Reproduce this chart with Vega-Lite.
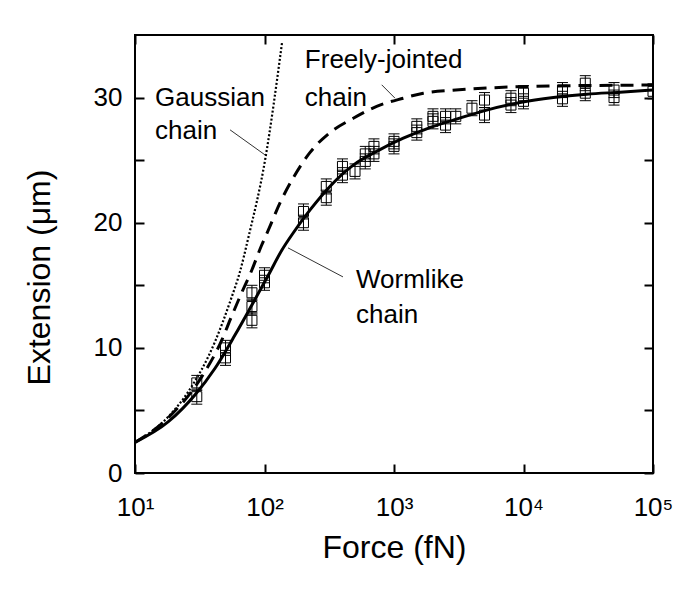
{
  "$schema": "https://vega.github.io/schema/vega-lite/v6.json",
  "width": 518,
  "height": 438,
  "autosize": {"type": "none"},
  "padding": {"left": 135, "top": 35, "right": 44, "bottom": 116},
  "background": "white",
  "config": {
    "view": {"stroke": "black", "strokeWidth": 2},
    "font": "Liberation Sans",
    "axis": {
      "grid": false, "domain": false, "tickColor": "black", "tickWidth": 2, "tickSize": 9, "offset": -9,
      "labelColor": "black", "labelFont": "Liberation Sans", "labelFontSize": 26,
      "titleFont": "Liberation Sans", "titleFontSize": 32, "titleFontWeight": "normal", "titleColor": "black"
    }
  },
  "datasets": {
    "wlc": [
      {"F": 10, "E": 2.45}, {"F": 18.1, "E": 4.1}, {"F": 29, "E": 6.23}, {"F": 41.5, "E": 8.37},
      {"F": 59, "E": 11.0}, {"F": 79.7, "E": 13.4}, {"F": 107, "E": 15.8}, {"F": 136, "E": 17.8},
      {"F": 167, "E": 19.2}, {"F": 224, "E": 21.0}, {"F": 320, "E": 22.9}, {"F": 485, "E": 24.6},
      {"F": 735, "E": 25.7}, {"F": 1180, "E": 26.75}, {"F": 1897, "E": 27.6}, {"F": 2870, "E": 28.2},
      {"F": 5200, "E": 29.0}, {"F": 9400, "E": 29.6}, {"F": 17000, "E": 30.0}, {"F": 30800, "E": 30.27},
      {"F": 55600, "E": 30.43}, {"F": 100000, "E": 30.6}
    ],
    "fjc": [
      {"F": 10, "E": 2.45}, {"F": 18, "E": 4.4}, {"F": 32.8, "E": 7.7}, {"F": 46.7, "E": 10.6},
      {"F": 55.1, "E": 12.4}, {"F": 66.6, "E": 14.4}, {"F": 79.7, "E": 16.2}, {"F": 95, "E": 18.2},
      {"F": 107, "E": 19.4}, {"F": 132, "E": 21.6}, {"F": 167, "E": 23.6}, {"F": 224, "E": 25.6},
      {"F": 320, "E": 27.2}, {"F": 485, "E": 28.35}, {"F": 735, "E": 29.3}, {"F": 1180, "E": 29.95},
      {"F": 1683, "E": 30.35}, {"F": 3000, "E": 30.6}, {"F": 12600, "E": 30.9}, {"F": 100000, "E": 31.0}
    ],
    "gauss": [
      {"F": 10, "E": 2.45}, {"F": 18.1, "E": 4.5}, {"F": 25.8, "E": 6.5}, {"F": 41.5, "E": 10.5},
      {"F": 55.1, "E": 13.9}, {"F": 64.7, "E": 16.1}, {"F": 75, "E": 18.8}, {"F": 101, "E": 25.0},
      {"F": 137, "E": 34.5}
    ],
    "pts": [
      {"F": 30, "E": 7.2, "lo": 6.6, "hi": 7.8}, {"F": 30, "E": 6.1, "lo": 5.5, "hi": 6.7},
      {"F": 50, "E": 10.0, "lo": 9.4, "hi": 10.6}, {"F": 50, "E": 9.2, "lo": 8.6, "hi": 9.8},
      {"F": 80, "E": 14.4, "lo": 13.8, "hi": 15.0}, {"F": 80, "E": 13.3, "lo": 12.7, "hi": 13.9},
      {"F": 80, "E": 12.2, "lo": 11.6, "hi": 12.8},
      {"F": 100, "E": 15.8, "lo": 15.2, "hi": 16.4}, {"F": 100, "E": 15.2, "lo": 14.6, "hi": 15.8},
      {"F": 200, "E": 20.9, "lo": 20.3, "hi": 21.5}, {"F": 200, "E": 20.0, "lo": 19.4, "hi": 20.6},
      {"F": 300, "E": 22.9, "lo": 22.3, "hi": 23.5}, {"F": 300, "E": 22.0, "lo": 21.4, "hi": 22.6},
      {"F": 400, "E": 24.5, "lo": 23.9, "hi": 25.1}, {"F": 400, "E": 23.8, "lo": 23.2, "hi": 24.4},
      {"F": 500, "E": 24.1, "lo": 23.5, "hi": 24.7},
      {"F": 600, "E": 25.5, "lo": 24.9, "hi": 26.1}, {"F": 600, "E": 24.9, "lo": 24.3, "hi": 25.5},
      {"F": 700, "E": 26.1, "lo": 25.5, "hi": 26.7}, {"F": 700, "E": 25.5, "lo": 24.9, "hi": 26.1},
      {"F": 1000, "E": 26.5, "lo": 25.9, "hi": 27.1}, {"F": 1000, "E": 26.1, "lo": 25.5, "hi": 26.7},
      {"F": 1500, "E": 27.7, "lo": 27.1, "hi": 28.3}, {"F": 1500, "E": 27.2, "lo": 26.6, "hi": 27.8},
      {"F": 2000, "E": 28.5, "lo": 27.9, "hi": 29.1}, {"F": 2000, "E": 28.1, "lo": 27.5, "hi": 28.7},
      {"F": 2500, "E": 28.5, "lo": 27.9, "hi": 29.1}, {"F": 2500, "E": 27.8, "lo": 27.2, "hi": 28.4},
      {"F": 3000, "E": 28.5, "lo": 27.9, "hi": 29.1},
      {"F": 4000, "E": 29.15, "lo": 28.55, "hi": 29.75},
      {"F": 5000, "E": 29.8, "lo": 29.2, "hi": 30.4}, {"F": 5000, "E": 28.6, "lo": 28.0, "hi": 29.2},
      {"F": 8000, "E": 29.95, "lo": 29.35, "hi": 30.55}, {"F": 8000, "E": 29.4, "lo": 28.8, "hi": 30.0},
      {"F": 10000, "E": 30.35, "lo": 29.75, "hi": 30.95}, {"F": 10000, "E": 29.7, "lo": 29.1, "hi": 30.3},
      {"F": 20000, "E": 30.6, "lo": 30.0, "hi": 31.2}, {"F": 20000, "E": 29.9, "lo": 29.3, "hi": 30.5},
      {"F": 30000, "E": 31.15, "lo": 30.55, "hi": 31.75}, {"F": 30000, "E": 30.35, "lo": 29.75, "hi": 30.95},
      {"F": 50000, "E": 30.6, "lo": 30.0, "hi": 31.2}, {"F": 50000, "E": 30.0, "lo": 29.4, "hi": 30.6},
      {"F": 100000, "E": 30.5, "lo": 29.9, "hi": 31.1}
    ],
    "labels": [
      {"F": 14.3, "E": 29.36, "t": "Gaussian"},
      {"F": 14.3, "E": 26.68, "t": "chain"},
      {"F": 205, "E": 32.35, "t": "Freely-jointed"},
      {"F": 205, "E": 29.36, "t": "chain"},
      {"F": 509, "E": 14.76, "t": "Wormlike"},
      {"F": 509, "E": 11.97, "t": "chain"}
    ],
    "leaders": [
      {"F1": 54.2, "E1": 27.42, "F2": 100.9, "E2": 25.42},
      {"F1": 803.6, "E1": 31.02, "F2": 1018, "E2": 29.95},
      {"F1": 151.9, "E1": 17.99, "F2": 403.6, "E2": 15.67}
    ]
  },
  "layer": [
    {
      "data": {"name": "wlc"},
      "mark": {"type": "line", "color": "black", "strokeWidth": 3, "interpolate": "monotone", "clip": true},
      "encoding": {
        "x": {"field": "F", "type": "quantitative",
              "scale": {"type": "log", "domain": [10, 100000], "nice": false},
              "axis": {"values": [10, 100, 1000, 10000, 100000], "title": "Force (fN)",
                       "labelExpr": "datum.value == 10 ? '10¹' : datum.value == 100 ? '10²' : datum.value == 1000 ? '10³' : datum.value == 10000 ? '10⁴' : '10⁵'",
                       "labelPadding": 21, "titlePadding": 12, "labelFlush": false, "labelOverlap": false}},
        "y": {"field": "E", "type": "quantitative",
              "scale": {"domain": [0, 35], "nice": false, "zero": false},
              "axis": {"values": [0, 5, 10, 15, 20, 25, 30], "title": "Extension (μm)",
                       "labelExpr": "datum.value % 10 == 0 ? datum.label : ''",
                       "labelPadding": 13, "titlePadding": 37, "titleY": 242, "labelFlush": false, "labelOverlap": false}}
      }
    },
    {
      "data": {"name": "fjc"},
      "mark": {"type": "line", "color": "black", "strokeWidth": 3, "strokeDash": [13, 8], "interpolate": "monotone", "clip": true},
      "encoding": {
        "x": {"field": "F", "type": "quantitative",
              "axis": {"orient": "top", "values": [10, 100, 1000, 10000, 100000], "labels": false, "title": null}},
        "y": {"field": "E", "type": "quantitative",
              "axis": {"orient": "right", "values": [0, 5, 10, 15, 20, 25, 30], "labels": false, "title": null}}
      }
    },
    {
      "data": {"name": "gauss"},
      "mark": {"type": "line", "color": "black", "strokeWidth": 2.2, "strokeDash": [2, 2], "interpolate": "monotone", "clip": true},
      "encoding": {
        "x": {"field": "F", "type": "quantitative", "axis": null},
        "y": {"field": "E", "type": "quantitative", "axis": null}
      }
    },
    {
      "data": {"name": "pts"},
      "mark": {"type": "rule", "color": "black", "strokeWidth": 1, "clip": true},
      "encoding": {
        "x": {"field": "F", "type": "quantitative", "axis": null},
        "y": {"field": "lo", "type": "quantitative", "axis": null},
        "y2": {"field": "hi"}
      }
    },
    {
      "data": {"name": "pts"},
      "mark": {"type": "tick", "orient": "horizontal", "color": "black", "size": 11, "thickness": 1, "opacity": 1, "clip": true},
      "encoding": {
        "x": {"field": "F", "type": "quantitative", "axis": null},
        "y": {"field": "lo", "type": "quantitative", "axis": null}
      }
    },
    {
      "data": {"name": "pts"},
      "mark": {"type": "tick", "orient": "horizontal", "color": "black", "size": 11, "thickness": 1, "opacity": 1, "clip": true},
      "encoding": {
        "x": {"field": "F", "type": "quantitative", "axis": null},
        "y": {"field": "hi", "type": "quantitative", "axis": null}
      }
    },
    {
      "data": {"name": "pts"},
      "mark": {"type": "point", "shape": "square", "filled": false, "color": "black", "size": 100, "strokeWidth": 1, "opacity": 1, "clip": true},
      "encoding": {
        "x": {"field": "F", "type": "quantitative", "axis": null},
        "y": {"field": "E", "type": "quantitative", "axis": null}
      }
    },
    {
      "data": {"name": "leaders"},
      "mark": {"type": "rule", "color": "#333", "strokeWidth": 1},
      "encoding": {
        "x": {"field": "F1", "type": "quantitative", "axis": null},
        "y": {"field": "E1", "type": "quantitative", "axis": null},
        "x2": {"field": "F2"},
        "y2": {"field": "E2"}
      }
    },
    {
      "data": {"name": "labels"},
      "mark": {"type": "text", "align": "left", "baseline": "alphabetic", "font": "Liberation Sans", "fontSize": 26, "color": "black"},
      "encoding": {
        "x": {"field": "F", "type": "quantitative", "axis": null},
        "y": {"field": "E", "type": "quantitative", "axis": null},
        "text": {"field": "t"}
      }
    }
  ],
  "resolve": {"axis": {"x": "independent", "y": "independent"}}
}
